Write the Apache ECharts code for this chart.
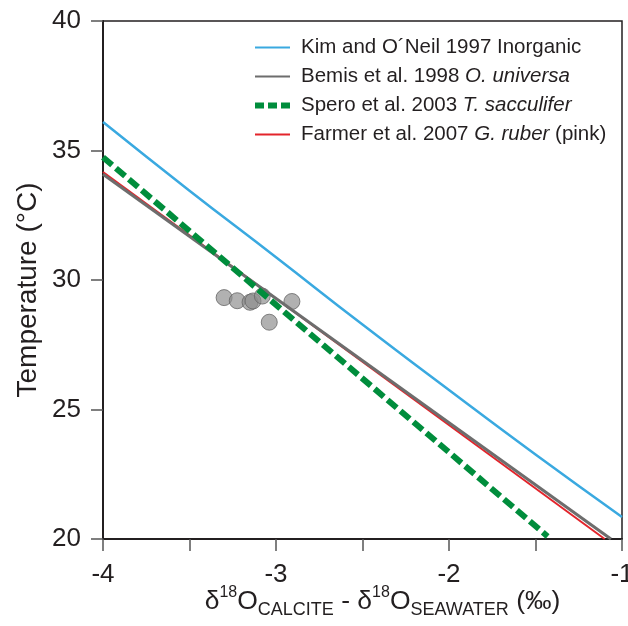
<!DOCTYPE html>
<html><head><meta charset="utf-8">
<script src="https://cdn.jsdelivr.net/npm/echarts@6/dist/echarts.min.js"></script>
<style>html,body{margin:0;padding:0;background:#fff}#c{width:628px;height:626px}</style>
</head><body><div id="c"></div>
<script>
// Data
var kimX = [-4, -3.5, -3, -2.5, -2, -1.5, -1];
var kimY = [36.1, 33.45, 30.88, 28.28, 25.75, 23.26, 20.85];
var bemisX = [-4, -1.064];
var bemisY = [34.08, 20];
var speroX = [-4, -1.43];
var speroY = [34.74, 20.1];
var farmerX = [-4, -1.1];
var farmerY = [34.17, 20];
var ptsX = [-3.30, -3.224, -3.150, -3.133, -3.079, -2.908, -3.039];
var ptsY = [29.32, 29.20, 29.14, 29.19, 29.38, 29.17, 28.37];
var xTicks = [-4, -3, -2, -1];
var yTicks = [20, 25, 30, 35, 40];

var names = [
  ['Kim and O\u00b4Neil 1997 Inorganic', ''],
  ['Bemis et al. 1998 ', 'O. universa'],
  ['Spero et al. 2003 ', 'T. sacculifer'],
  ['Farmer et al. 2007 ', 'G. ruber', ' (pink)']
];
function full(n){ return n.join(''); }
function zip(a,b){ return a.map(function(v,i){return [v,b[i]];}); }

var FONT = 'Liberation Sans, Arial, Helvetica, sans-serif';
var chart = echarts.init(document.getElementById('c'), null, {renderer:'canvas'});
var legendMap = {};
names.forEach(function(n){ legendMap[full(n)] = n; });

var legendData = names.map(full).map(function(n, i){
  var d = {name: n};
  if (i === 2) d.lineStyle = {width: 6, type: [9, 4]};
  return d;
});

chart.setOption({
  animation: false,
  backgroundColor: '#fff',
  grid: {left: 103, right: 6, top: 21, bottom: 87, show: true, borderColor: '#231f20', borderWidth: 1.5,
         containLabel: false, outerBoundsMode: 'none'},
  legend: {
    orient: 'vertical', left: 252, top: 37, padding: 0,
    itemWidth: 35, itemHeight: 14, itemGap: 8,
    data: legendData,
    itemStyle: {opacity: 0, borderWidth: 0},
    textStyle: {
      fontFamily: FONT, fontSize: 20.5, color: '#231f20', padding: [0,0,0,6],
      rich: {
        n: {fontFamily: FONT, fontSize: 20.5, color: '#231f20'},
        i: {fontFamily: FONT, fontSize: 20.5, color: '#231f20', fontStyle: 'italic'}
      }
    },
    formatter: function(name){
      var n = legendMap[name];
      var s = '{n|' + n[0] + '}';
      if (n[1]) s += '{i|' + n[1] + '}';
      if (n[2]) s += '{n|' + n[2] + '}';
      return s;
    }
  },
  xAxis: {
    type: 'value', min: -4, max: -1, interval: 0.5,
    axisLine: {show: true, lineStyle: {color: '#231f20', width: 2}},
    axisTick: {show: true, length: 12, lineStyle: {color: '#555', width: 1.5}},
    splitLine: {show: false},
    axisLabel: {
      margin: 23, fontFamily: FONT, fontSize: 26, color: '#231f20',
      formatter: function(v){ return xTicks.indexOf(v) >= 0 ? String(v) : ''; }
    },
    name: '{a|\u03b4}{s|18}{a|O}{b|CALCITE}{a| - \u03b4}{s|18}{a|O}{b|SEAWATER}{a| (\u2030)}',
    nameLocation: 'middle', nameGap: 46, nameMoveOverlap: false,
    nameTextStyle: {
      padding: [0,0,0,40],
      rich: {
        a: {fontFamily: FONT, fontSize: 26.5, color: '#231f20', lineHeight: 34, verticalAlign: 'middle'},
        s: {fontFamily: FONT, fontSize: 16, color: '#231f20', lineHeight: 24, verticalAlign: 'top'},
        b: {fontFamily: FONT, fontSize: 18, color: '#231f20', lineHeight: 2, verticalAlign: 'bottom'}
      }
    }
  },
  yAxis: {
    type: 'value', min: 20, max: 40, interval: 5,
    axisLine: {show: true, lineStyle: {color: '#231f20', width: 2}},
    axisTick: {show: true, length: 12, lineStyle: {color: '#555', width: 1.5}},
    splitLine: {show: false},
    axisLabel: {margin: 22, fontFamily: FONT, fontSize: 26, color: '#231f20',
      formatter: function(v){ return yTicks.indexOf(v) >= 0 ? String(v) : ''; }},
    name: 'Temperature (\u00b0C)', nameLocation: 'middle', nameGap: 61, nameMoveOverlap: false,
    nameTextStyle: {fontFamily: FONT, fontSize: 28, color: '#231f20', padding: [0,20,0,0]}
  },
  series: [
    {type: 'scatter', name: 'points', data: zip(ptsX, ptsY), symbolSize: 16, z: 1,
     itemStyle: {color: 'rgba(140,140,140,0.85)', borderColor: '#666', borderWidth: 1}},
    {type: 'line', name: full(names[0]), data: zip(kimX, kimY), showSymbol: false, symbol: 'none', smooth: true, z: 3,
     lineStyle: {color: '#3aa9e0', width: 2.5}, itemStyle: {color: '#3aa9e0'}},
    {type: 'line', name: full(names[1]), data: zip(bemisX, bemisY), showSymbol: false, symbol: 'none', z: 3,
     lineStyle: {color: '#6d6d6d', width: 3}, itemStyle: {color: '#6d6d6d'}},
    {type: 'line', name: full(names[2]), data: zip(speroX, speroY), showSymbol: false, symbol: 'none', z: 4,
     lineStyle: {color: '#008d3c', width: 6, type: [12, 5]}, itemStyle: {color: '#008d3c'}},
    {type: 'line', name: full(names[3]), data: zip(farmerX, farmerY), showSymbol: false, symbol: 'none', z: 2,
     lineStyle: {color: '#e3242b', width: 2}, itemStyle: {color: '#e3242b'}}
  ]
});
</script></body></html>
